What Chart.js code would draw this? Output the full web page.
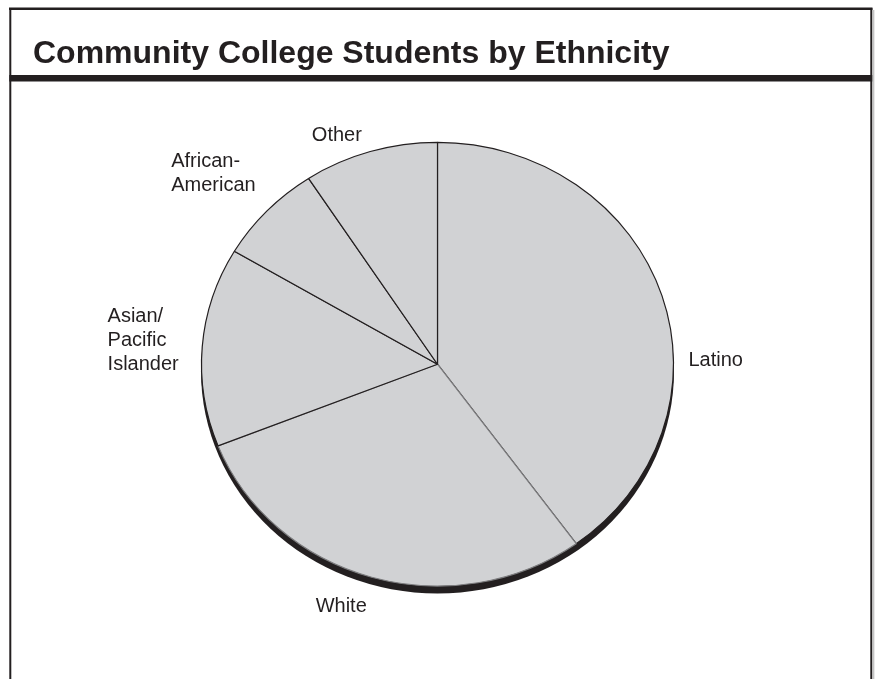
<!DOCTYPE html>
<html>
<head>
<meta charset="utf-8">
<script src="https://cdn.jsdelivr.net/npm/chart.js@4.4.1/dist/chart.umd.min.js"></script>
<style>
  html, body { margin: 0; padding: 0; background: #fff; }
  #wrap { width: 875px; height: 679px; }
</style>
</head>
<body>
<div id="wrap"><canvas id="myChart" width="875" height="679"></canvas></div>
<script>
// ----------------- Data -------------------------//
const chartTitle = "Community College Students by Ethnicity";
const categories = ["Latino", "White", "Asian/Pacific Islander", "African-American", "Other"];
// label text broken over lines the way the picture shows it
const categoryLines = [["Latino"], ["White"], ["Asian/", "Pacific", "Islander"], ["African-", "American"], ["Other"]];
const shares = [40, 29, 14.5, 7.3, 9.2]; // percent of students

// ----------------- Look -------------------------//
const ink = "#231f20";
const sliceFill = "#d1d2d4";
const sliceEdges = [ink, "#7d7d7f", ink, ink, ink]; // the Latino/White cut is printed lighter
const fontFamily = "'Liberation Sans', Arial, Helvetica, sans-serif";
const pieRadius = 236;
const tilt = 0.94; // the pie is a little flattened, like a tipped disc
const rimDepth = 7; // dark edge under the disc

// where each label sits: angle clockwise from 12 o'clock, gap past the rim, side of that point
const labelSpots = [
	{ angle: 89, gap: 15, side: "after" },
	{ angle: 200.5, gap: 39, side: "center" },
	{ angle: 275.6, gap: 24, side: "before" },
	{ angle: 312.1, gap: 66, side: "center" },
	{ angle: 337.5, gap: 27, side: "center" },
];

// frame round the whole figure with the heavy rule under the title
const framePlugin = {
	id: "frame",
	beforeDraw(chart) {
		const ctx = chart.ctx;
		ctx.save();
		ctx.fillStyle = "#fff";
		ctx.fillRect(0, 0, chart.width, chart.height);
		ctx.strokeStyle = ink;
		ctx.lineWidth = 2.5;
		ctx.beginPath();
		ctx.moveTo(9, 8.7);
		ctx.lineTo(872.5, 8.7);
		ctx.stroke();
		ctx.lineWidth = 2;
		ctx.beginPath();
		ctx.moveTo(10.3, 8);
		ctx.lineTo(10.3, chart.height);
		ctx.moveTo(871.3, 8);
		ctx.lineTo(871.3, chart.height);
		ctx.stroke();
		ctx.lineWidth = 6.5;
		ctx.beginPath();
		ctx.moveTo(9.3, 78.3);
		ctx.lineTo(872.3, 78.3);
		ctx.stroke();
		ctx.strokeStyle = "#c4c4c4";
		ctx.lineWidth = 1.5;
		ctx.beginPath();
		ctx.moveTo(873.6, 10);
		ctx.lineTo(873.6, chart.height);
		ctx.stroke();
		ctx.restore();
	},
};

// flatten the pie, draw its dark edge, then put the labels round it
const tiltPlugin = {
	id: "tilt",
	beforeDatasetsDraw(chart) {
		const ctx = chart.ctx;
		const arc = chart.getDatasetMeta(0).data[0];
		const { x, y, outerRadius } = arc.getProps(["x", "y", "outerRadius"], true);
		ctx.save();
		ctx.translate(x, y);
		ctx.scale(1, tilt);
		ctx.translate(-x, -y);
		ctx.fillStyle = ink;
		ctx.beginPath();
		ctx.arc(x, y + rimDepth / tilt, outerRadius + 0.5, 0, Math.PI * 2);
		ctx.fill();
	},
	afterDatasetsDraw(chart) {
		const ctx = chart.ctx;
		ctx.restore();
		const meta = chart.getDatasetMeta(0);
		ctx.save();
		ctx.fillStyle = ink;
		ctx.font = "20px " + fontFamily;
		ctx.textAlign = "left";
		ctx.textBaseline = "middle";
		const lineHeight = 24;
		meta.data.forEach((arc, i) => {
			const { x, y, outerRadius } = arc.getProps(["x", "y", "outerRadius"], true);
			const spot = labelSpots[i];
			const a = (spot.angle * Math.PI) / 180;
			const dist = outerRadius + spot.gap;
			const ax = x + Math.sin(a) * dist;
			const ay = y - Math.cos(a) * dist * tilt;
			const lines = categoryLines[i];
			const w = Math.max(...lines.map((t) => ctx.measureText(t).width));
			let left = ax - w / 2;
			if (spot.side === "after") left = ax;
			if (spot.side === "before") left = ax - w;
			const firstY = ay - ((lines.length - 1) * lineHeight) / 2;
			lines.forEach((t, k) => ctx.fillText(t, left, firstY + k * lineHeight));
		});
		ctx.restore();
	},
};

const ctx = document.getElementById("myChart");
const myChart = new Chart(ctx, {
	type: "pie",
	data: {
		labels: categories,
		datasets: [
			{
				data: shares,
				backgroundColor: sliceFill,
				borderColor: sliceEdges,
				borderWidth: 1.2,
				clip: false,
			},
		],
	},
	options: {
		responsive: false,
		animation: false,
		events: [],
		radius: pieRadius,
		layout: {
			padding: { top: 25, left: 33, right: 33, bottom: 44 },
		},
		plugins: {
			legend: { display: false },
			tooltip: { enabled: false },
			title: {
				display: true,
				text: chartTitle,
				align: "start",
				color: ink,
				font: { family: fontFamily, size: 32, weight: "bold", lineHeight: 1.2 },
				padding: { top: 10, bottom: 20 },
			},
		},
	},
	plugins: [framePlugin, tiltPlugin],
});
</script>
</body>
</html>
